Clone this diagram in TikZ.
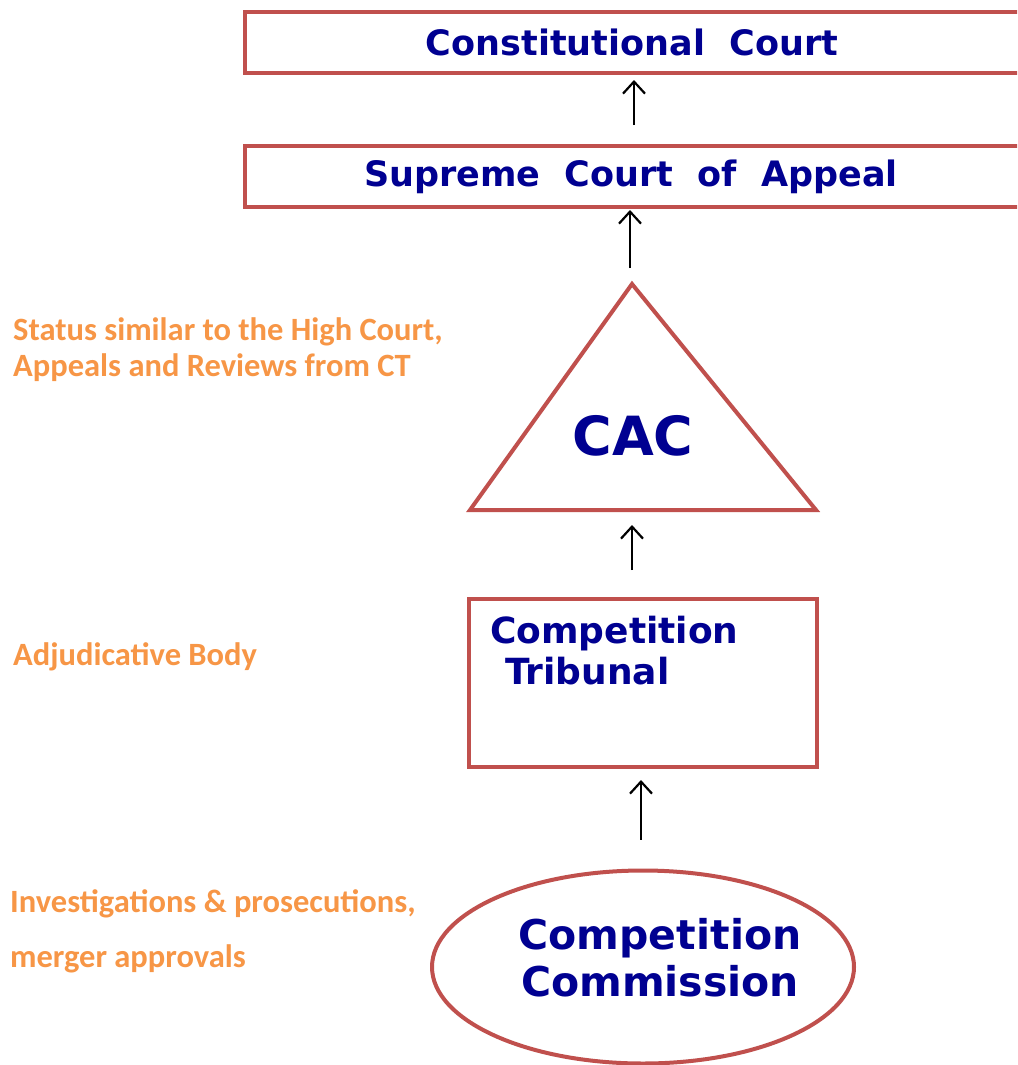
\documentclass[tikz,border=0pt]{standalone}
\usepackage{fontspec}
\usetikzlibrary{arrows.meta,shapes.geometric,calc}
\newfontfamily\blkfont{DejaVu Sans}
\newfontfamily\calfont{Carlito}
\definecolor{bord}{HTML}{C0504D}
\definecolor{navy}{RGB}{0,0,145}
\definecolor{orng}{HTML}{F79646}
\tikzset{
  box/.style={draw=bord,line width=4pt,rectangle,inner sep=0pt},
  bluetxt/.style={text=navy,font=\blkfont\bfseries,inner sep=0pt},
  note/.style={text=orng,font=\calfont\bfseries\fontsize{32.5}{36}\selectfont,inner sep=0pt,anchor=west,align=left},
  up/.style={draw=black,line width=2.2pt,-{Straight Barb[length=12pt,width=22pt,line width=2.2pt]}}
}
\begin{document}
\begin{tikzpicture}[x=1pt,y=-1pt]
\clip (0,0) rectangle (1017,1065);
\fill[white] (0,0) rectangle (1017,1065);
% top boxes
\node[box,minimum width=790pt,minimum height=61pt] (cc) at (640,42.5) {};
\node[bluetxt,font=\blkfont\bfseries\fontsize{35}{40}\selectfont] (cct) at (632,42) {Constitutional\ \ Court};
\node[box,minimum width=790pt,minimum height=61pt] (sca) at (640,176.5) {};
\node[bluetxt,font=\blkfont\bfseries\fontsize{35}{40}\selectfont] (scat) at (631,177) {Supreme\ \ Court\ \ of\ \ Appeal};
% triangle
\coordinate (apex) at (632,284);
\coordinate (bl) at (470,510);
\coordinate (br) at (816,510);
\draw[bord,line width=4pt,line join=miter] (apex) -- (br) -- (bl) -- cycle;
\node[bluetxt,font=\blkfont\bfseries\fontsize{54}{60}\selectfont] (cac) at (633,436) {CAC};
% tribunal
\node[box,minimum width=348pt,minimum height=168pt] (ct) at (643,683) {};
\node[bluetxt,anchor=north west,align=left,font=\blkfont\bfseries\fontsize{36}{41}\selectfont] (ctt) at (490,616) {Competition\\\hspace{15pt}Tribunal};
% commission
\node[draw=bord,line width=4pt,ellipse,minimum width=422pt,minimum height=193pt,inner sep=0pt] (cm) at (643,967) {};
\node[bluetxt,align=center,font=\blkfont\bfseries\fontsize{41}{47}\selectfont] (cmt) at (660,958) {Competition\\Commission};
% notes
\node[note] (n1) at (13,350) {Status similar to the High Court,\\Appeals and Reviews from CT};
\node[note] (n2) at (13,657) {Adjudicative Body};
\node[note,font=\calfont\bfseries\fontsize{32.5}{55}\selectfont] (n3) at (10,931) {Investigations \& prosecutions,\\merger approvals};
% arrows
\draw[up,shorten <=19pt,shorten >=5pt] ($(sca.north)+(-6,0)$) -- ($(cc.south)+(-6,0)$);
\draw[up,shorten <=16pt,shorten >=1pt] ($(apex)+(-2,0)$) -- ($(sca.south)+(-10,0)$);
\draw[up,shorten <=27pt,shorten >=15pt] ($(ct.north)+(-11,0)$) -- (apex |- bl);
\draw[up,shorten <=29pt,shorten >=11pt] ($(cm.north)+(-2,0)$) -- ($(ct.south)+(-2,0)$);
\end{tikzpicture}
\end{document}
